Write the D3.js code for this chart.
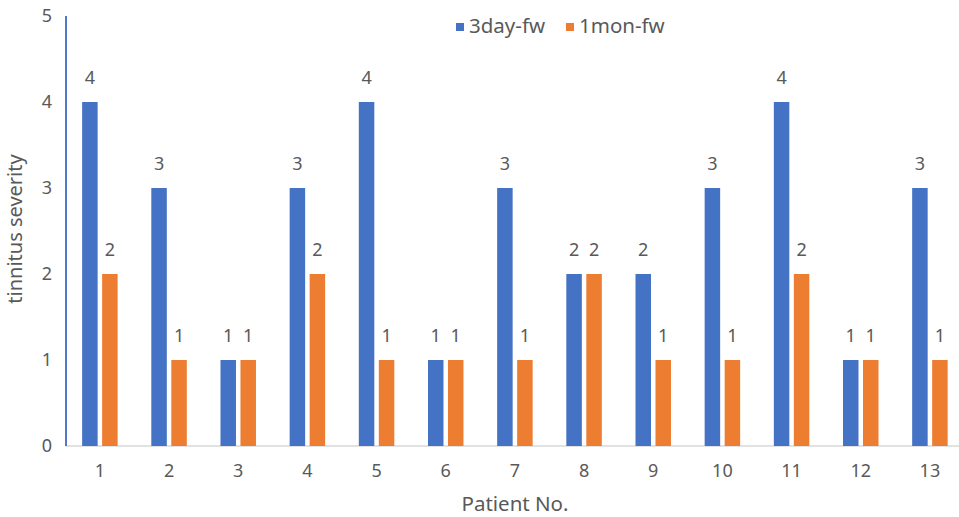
<!DOCTYPE html>
<html>
<head>
<meta charset="utf-8">
<script src="https://cdn.jsdelivr.net/npm/d3@7"></script>
<style>
  html, body { margin: 0; padding: 0; background: #ffffff; }
  svg { display: block; }
  text { font-family: "Noto Sans", "Open Sans", sans-serif; fill: #595959; }
</style>
</head>
<body>
<svg id="chart" width="959" height="517"></svg>
<script>
const categories = ["1","2","3","4","5","6","7","8","9","10","11","12","13"];
const seriesNames = ["3day-fw", "1mon-fw"];
const day3 = [4,3,1,3,4,1,3,2,2,3,4,1,3];
const mon1 = [2,1,1,2,1,1,1,2,1,1,2,1,1];
const yTicks = [0,1,2,3,4,5];
const colors = ["#4472C4", "#ED7D31"];

const svg = d3.select("#chart");
const xLeft = 65.3, xRight = 964.5, yTop = 16, yBottom = 446;

const x0 = d3.scaleBand().domain(categories).range([xLeft, xRight]).paddingInner(0).paddingOuter(0);
const x1 = d3.scaleBand().domain(seriesNames).range([0, x0.bandwidth()]).paddingInner(0.225).paddingOuter(0.842);
const y = d3.scaleLinear().domain([0, 5]).range([yBottom, yTop]);
const color = d3.scaleOrdinal().domain(seriesNames).range(colors);

const rows = categories.map((c, i) => ({cat: c, vals: [
  {s: seriesNames[0], v: day3[i]},
  {s: seriesNames[1], v: mon1[i]}
]}));

// x axis line
svg.append("line")
  .attr("x1", xLeft).attr("x2", 959)
  .attr("y1", yBottom).attr("y2", yBottom)
  .attr("stroke", "#D9D9D9").attr("stroke-width", 1.5);

// bars
const g = svg.append("g");
const groups = g.selectAll("g.grp").data(rows).join("g")
  .attr("class", "grp")
  .attr("transform", d => `translate(${x0(d.cat)},0)`);

groups.selectAll("rect").data(d => d.vals).join("rect")
  .attr("x", d => x1(d.s))
  .attr("width", x1.bandwidth())
  .attr("y", d => y(d.v))
  .attr("height", d => y(0) - y(d.v))
  .attr("fill", d => color(d.s));

groups.selectAll("text.lbl").data(d => d.vals).join("text")
  .attr("class", "lbl")
  .attr("x", d => x1(d.s) + x1.bandwidth() / 2)
  .attr("y", d => y(d.v) - 18)
  .attr("text-anchor", "middle")
  .attr("font-size", 18)
  .text(d => d.v);

// y axis line
svg.append("line")
  .attr("x1", 66).attr("x2", 66)
  .attr("y1", yTop).attr("y2", yBottom)
  .attr("stroke", "#5677C6").attr("stroke-width", 2);

// y tick labels
svg.append("g").selectAll("text").data(yTicks).join("text")
  .attr("x", 52)
  .attr("y", d => y(d))
  .attr("dy", "0.35em")
  .attr("text-anchor", "end")
  .attr("font-size", 18)
  .text(d => d);

// x tick labels
svg.append("g").selectAll("text").data(categories).join("text")
  .attr("x", d => x0(d) + x0.bandwidth() / 2)
  .attr("y", 477)
  .attr("text-anchor", "middle")
  .attr("font-size", 18)
  .text(d => d);

// axis titles
svg.append("text")
  .attr("x", 515).attr("y", 511)
  .attr("text-anchor", "middle")
  .attr("font-size", 20.5)
  .text("Patient No.");

svg.append("text")
  .attr("transform", "translate(22,229) rotate(-90)")
  .attr("text-anchor", "middle")
  .attr("font-size", 20)
  .text("tinnitus severity");

// legend
const legendX = [456, 566];
const leg = svg.append("g").selectAll("g").data(seriesNames).join("g")
  .attr("transform", (d, i) => `translate(${legendX[i]},0)`);
leg.append("rect").attr("x", 0).attr("y", 23).attr("width", 8).attr("height", 8)
  .attr("fill", d => color(d));
leg.append("text").attr("x", 13).attr("y", 33).attr("font-size", 20.5).text(d => d);
</script>
</body>
</html>
